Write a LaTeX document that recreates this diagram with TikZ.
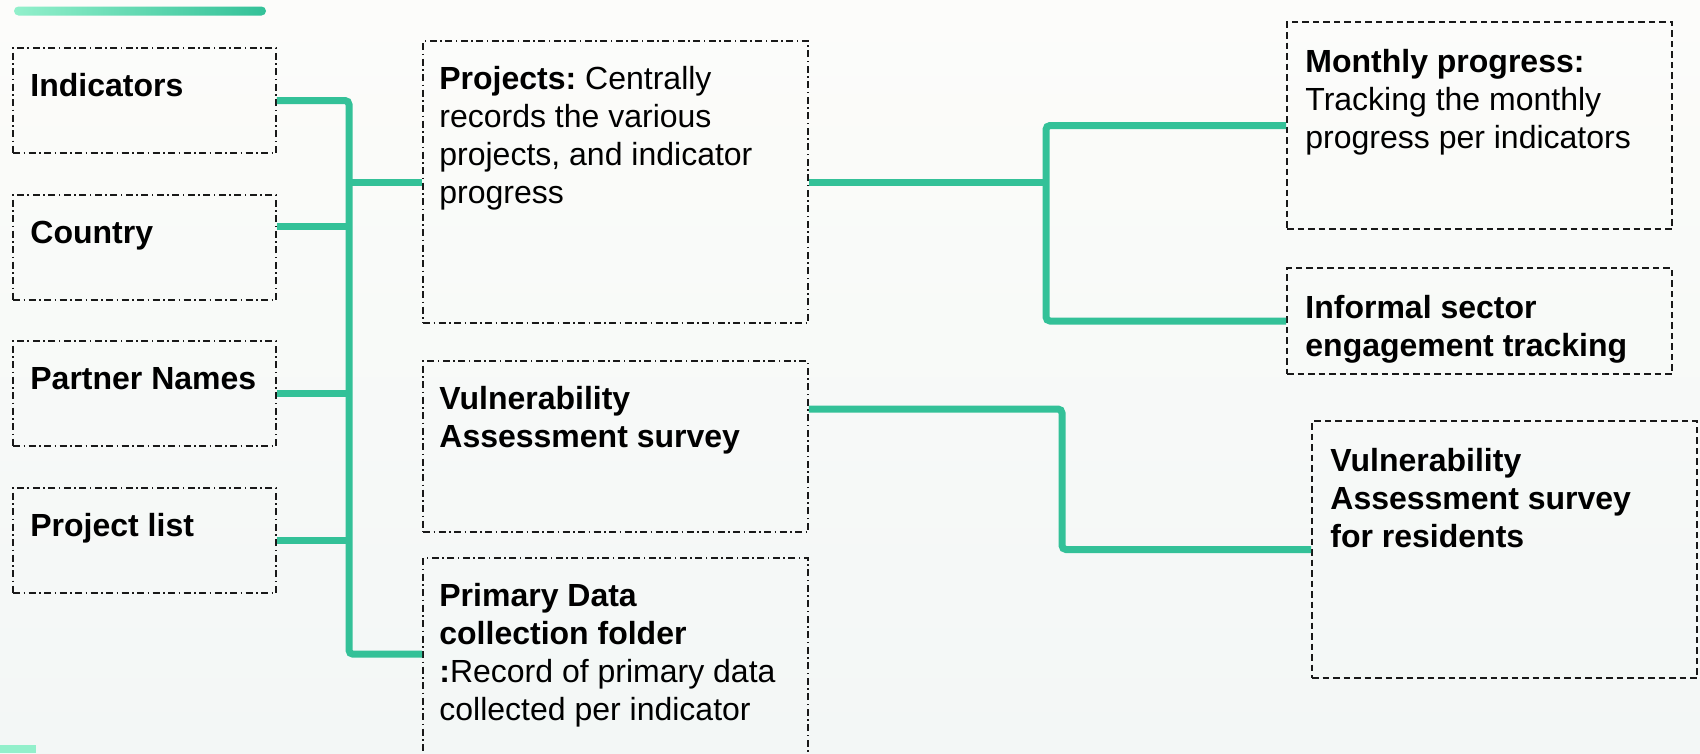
\documentclass[tikz,border=0pt]{standalone}
\usepackage{fontspec}
\setmainfont{Liberation Sans}
\usetikzlibrary{calc}
\frenchspacing
\definecolor{conncol}{RGB}{51,193,152}
\definecolor{mintcol}{RGB}{146,240,203}
\definecolor{bgtop}{RGB}{252,252,250}
\definecolor{bgbot}{RGB}{243,247,246}
\definecolor{boxline}{RGB}{25,25,25}
\tikzset{
  dotbox/.style={draw=boxline, line width=1.6pt, dash pattern=on 7pt off 3.5pt on 1.5pt off 3.5pt, inner sep=0pt, rectangle},
  dashbox/.style={draw=boxline, line width=1.6pt, dash pattern=on 6.5pt off 4pt, inner sep=0pt, rectangle},
  leftbox/.style={dotbox, minimum width=263pt, minimum height=105pt},
  midbox/.style={dotbox, minimum width=385pt},
  rightbox/.style={dashbox, minimum width=385pt},
  txt/.style={inner sep=0pt, anchor=north west, align=left, font=\fontsize{32}{38}\selectfont\frenchspacing, text=black},
  conn/.style={draw=conncol, line width=7pt, rounded corners=4pt}
}
\newcommand{\fl}{\rule{0pt}{25pt}}
\begin{document}
\begin{tikzpicture}[x=1pt,y=-1pt]
\useasboundingbox (0,0) rectangle (1700,753);
\clip (0,0) rectangle (1700,753);
\shade[top color=bgtop, bottom color=bgbot] (0,0) rectangle (1700,753);
% decorations
\shade[left color=mintcol, right color=conncol, rounded corners=4.5pt] (14,6.5) rectangle (266,15.5);
\fill[mintcol] (0,745) rectangle (36,753);

% left boxes
\node[leftbox] (ind) at (144.5,100.5) {};
\node[leftbox] (ctry) at (144.5,247.5) {};
\node[leftbox] (prt) at (144.5,393.5) {};
\node[leftbox] (plist) at (144.5,540.5) {};
\node[txt] (indT) at ([xshift=18pt,yshift=-24pt]ind.north west) {\fl\textbf{Indicators}};
\node[txt] (ctryT) at ([xshift=18pt,yshift=-24pt]ctry.north west) {\fl\textbf{Country}};
\node[txt] (prtT) at ([xshift=18pt,yshift=-24pt]prt.north west) {\fl\textbf{Partner Names}};
\node[txt] (plistT) at ([xshift=18pt,yshift=-24pt]plist.north west) {\fl\textbf{Project list}};

% middle boxes
\node[midbox, minimum height=282pt] (proj) at (615.5,182) {};
\node[midbox, minimum height=171pt] (vuln) at (615.5,446.5) {};
\node[midbox, minimum height=222pt] (prim) at (615.5,669) {};
\node[txt] (projT) at ([xshift=17pt,yshift=-24pt]proj.north west)
  {\fl\textbf{Projects:} Centrally\\records the various\\projects, and indicator\\progress};
\node[txt] (vulnT) at ([xshift=17pt,yshift=-24pt]vuln.north west)
  {\fl\textbf{Vulnerability}\\\textbf{Assessment survey}};
\node[txt] (primT) at ([xshift=17pt,yshift=-24pt]prim.north west)
  {\fl\textbf{Primary Data}\\\textbf{collection folder}\\\textbf{:}Record of primary data\\collected per indicator};

% right boxes
\node[rightbox, minimum height=207pt] (mon) at (1479.5,125.5) {};
\node[rightbox, minimum height=106pt] (inf) at (1479.5,321) {};
\node[rightbox, minimum height=257pt] (res) at (1504.5,549.5) {};
\node[txt] (monT) at ([xshift=19pt,yshift=-26pt]mon.north west)
  {\fl\textbf{Monthly progress:}\\Tracking the monthly\\progress per indicators};
\node[txt] (infT) at ([xshift=19pt,yshift=-26pt]inf.north west)
  {\fl\textbf{Informal sector}\\\textbf{engagement tracking}};
\node[txt] (resT) at ([xshift=19pt,yshift=-26pt]res.north west)
  {\fl\textbf{Vulnerability}\\\textbf{Assessment survey}\\\textbf{for residents}};

% connector coordinates
\coordinate (lbus) at (349,0);
\coordinate (rbus) at (1046,0);
\coordinate (vbus) at (1062,0);
\coordinate (ctryOut) at ([yshift=21.5pt]ctry.east);
\coordinate (primIn) at ([yshift=-97pt]prim.north west);
\coordinate (vulnOut) at ([yshift=37.5pt]vuln.east);

% left connectors
\draw[conn] (ind.east) -- (ind.east -| lbus) -- (primIn -| lbus) -- (primIn);
\draw[conn] (ctryOut) -- (ctryOut -| lbus);
\draw[conn] (prt.east) -- (prt.east -| lbus);
\draw[conn] (plist.east) -- (plist.east -| lbus);
\draw[conn] (proj.west -| lbus) -- (proj.west);

% right connectors
\draw[conn] (proj.east) -- (proj.east -| rbus);
\draw[conn] (mon.west) -- (mon.west -| rbus) -- (inf.west -| rbus) -- (inf.west);
\draw[conn] (vulnOut) -- (vulnOut -| vbus) -- (res.west -| vbus) -- (res.west);
\end{tikzpicture}
\end{document}
